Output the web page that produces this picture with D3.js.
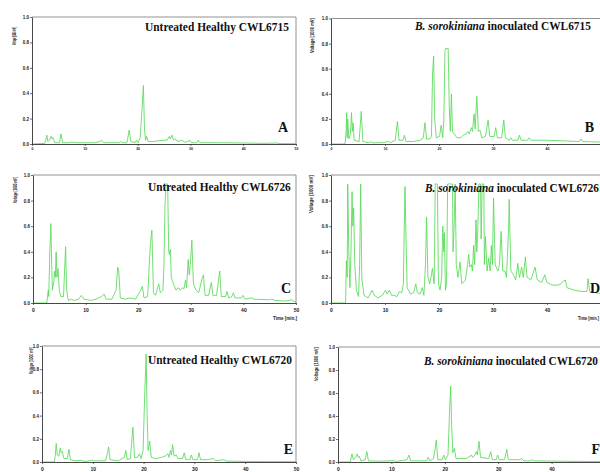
<!DOCTYPE html>
<html>
<head>
<meta charset="utf-8">
<script src="https://cdn.jsdelivr.net/npm/d3@7"></script>
<style>
  html, body { margin: 0; padding: 0; background: #fff; }
  svg { display: block; }
</style>
</head>
<body>
<svg id="chart" width="600" height="472"></svg>
<script>
// retention time [min] / detector signal [1000 mV]
const traceA = [[0,0],[2.4,0.005],[2.6,0.03],[2.8,0.07],[3.0,0.02],[3.3,0.03],[3.6,0.06],[3.8,0.04],[4.0,0.05],[4.3,0.01],[5.2,0.01],[5.5,0.08],[5.8,0.01],[7.0,0.01],[7.5,0.015],[8.5,0.01],[10,0.01],[12,0.01],[12.9,0.02],[13.2,0.03],[13.6,0.01],[16.5,0.01],[16.8,0.02],[17.1,0.01],[18.0,0.01],[18.4,0.11],[18.7,0.02],[19.5,0.01],[19.8,0.03],[20.1,0.01],[20.5,0.05],[20.8,0.25],[21.1,0.46],[21.3,0.12],[21.5,0.03],[21.7,0.06],[22.0,0.02],[23,0.02],[24,0.025],[25,0.03],[25.6,0.03],[26.0,0.06],[26.2,0.04],[26.5,0.07],[26.8,0.03],[27.2,0.04],[27.5,0.02],[28.5,0.03],[28.8,0.015],[29.5,0.02],[29.9,0.03],[30.2,0.01],[31.2,0.01],[31.5,0.03],[31.8,0.01],[35,0.01],[40,0.008],[44,0.005],[46.3,0.008],[47,0.003],[50,0.003]];

const traceB = [[0,0],[2.6,0],[2.8,0.1],[2.9,0.25],[3.0,0.05],[3.1,0.2],[3.3,0.04],[3.6,0.08],[3.8,0.25],[3.95,0.1],[4.1,0.17],[4.3,0.03],[5.2,0.02],[5.6,0.26],[5.9,0.02],[7.0,0.01],[7.3,0.02],[7.6,0.01],[9.5,0.01],[10.6,0.02],[11.0,0.01],[11.9,0.03],[12.3,0.18],[12.6,0.03],[13.3,0.03],[13.6,0.07],[13.9,0.02],[15.2,0.02],[16.5,0.03],[17.1,0.05],[17.4,0.17],[17.7,0.04],[18.3,0.04],[18.6,0.06],[18.8,0.55],[19.0,0.70],[19.2,0.2],[19.5,0.05],[20.1,0.06],[20.4,0.15],[20.7,0.05],[20.9,0.2],[21.1,0.74],[21.2,0.76],[21.7,0.76],[21.9,0.3],[22.1,0.1],[22.3,0.40],[22.5,0.1],[23.0,0.07],[23.3,0.05],[24.0,0.05],[24.5,0.07],[25.0,0.08],[25.3,0.1],[25.6,0.08],[26.0,0.13],[26.2,0.1],[26.5,0.24],[26.7,0.12],[27.0,0.38],[27.3,0.1],[27.6,0.11],[27.9,0.05],[28.6,0.06],[29.1,0.19],[29.4,0.06],[30.2,0.06],[30.5,0.13],[30.8,0.05],[31.6,0.05],[32.0,0.19],[32.3,0.05],[33.0,0.03],[33.3,0.05],[33.6,0.03],[34.6,0.03],[34.9,0.07],[35.2,0.03],[36.4,0.03],[36.7,0.05],[37.0,0.03],[40,0.03],[43,0.025],[46.0,0.02],[46.3,0.04],[46.6,0.02],[50,0.015]];

const traceC = [[0,0],[2.6,0],[2.9,0.1],[3.0,0.05],[3.2,0.4],[3.4,0.62],[3.55,0.3],[3.7,0.1],[4.0,0.18],[4.1,0.25],[4.25,0.2],[4.4,0.40],[4.55,0.2],[4.75,0.27],[5.0,0.1],[5.3,0.05],[5.8,0.05],[6.1,0.35],[6.2,0.44],[6.4,0.1],[6.7,0.02],[7.3,0.03],[7.8,0.02],[8.7,0.03],[9.2,0.06],[9.7,0.03],[11,0.02],[12,0.03],[13.0,0.05],[13.5,0.07],[13.9,0.03],[15,0.03],[15.8,0.1],[16.1,0.28],[16.3,0.25],[16.6,0.04],[17.5,0.03],[18.4,0.04],[19.5,0.03],[20.5,0.1],[20.8,0.13],[21.1,0.04],[21.8,0.05],[22.3,0.45],[22.6,0.57],[22.9,0.08],[23.3,0.06],[23.9,0.15],[24.2,0.08],[24.7,0.1],[24.9,0.3],[25.1,0.77],[25.3,0.93],[25.6,0.93],[25.8,0.4],[25.95,0.38],[26.1,0.42],[26.3,0.2],[26.7,0.15],[27.2,0.1],[27.6,0.12],[28.0,0.1],[28.4,0.12],[28.7,0.11],[29.0,0.18],[29.2,0.12],[29.5,0.34],[29.7,0.22],[29.9,0.3],[30.2,0.49],[30.5,0.15],[31.0,0.1],[31.5,0.08],[32.2,0.2],[32.4,0.22],[32.7,0.06],[33.4,0.06],[33.9,0.16],[34.2,0.06],[34.9,0.06],[35.5,0.25],[35.8,0.05],[36.6,0.05],[36.9,0.09],[37.2,0.04],[37.8,0.05],[38.1,0.08],[38.4,0.04],[39.6,0.04],[39.9,0.06],[40.3,0.03],[41.5,0.04],[42,0.03],[45.0,0.025],[45.4,0.03],[46,0.02],[48,0.015],[49.3,0.025],[49.6,0.01],[50,0.01]];

const traceD = [[0,0],[2.7,0],[2.85,0.33],[3.0,0.2],[3.1,0.93],[3.3,0.4],[3.5,0.12],[3.7,0.4],[3.9,0.87],[4.05,0.6],[4.2,0.74],[4.4,0.3],[4.7,0.1],[5.1,0.05],[5.3,0.3],[5.5,0.93],[5.7,0.2],[6.1,0.06],[6.9,0.04],[7.6,0.1],[8.0,0.06],[8.7,0.04],[9.5,0.06],[10.1,0.1],[10.4,0.07],[10.8,0.1],[11.2,0.06],[11.7,0.06],[12.2,0.05],[12.7,0.09],[13.1,0.08],[13.4,0.15],[13.7,0.91],[13.9,0.5],[14.1,0.12],[14.7,0.07],[15.3,0.08],[15.7,0.15],[16.0,0.08],[16.5,0.07],[16.9,0.12],[17.2,0.06],[17.5,0.3],[17.7,0.67],[17.95,0.2],[18.3,0.15],[18.8,0.27],[19.1,0.15],[19.2,0.5],[19.3,0.93],[19.7,0.93],[19.9,0.15],[20.2,0.1],[20.5,0.2],[20.7,0.6],[20.9,0.4],[21.0,0.55],[21.2,0.1],[21.4,0.15],[21.6,0.93],[22.5,0.93],[22.6,0.4],[22.8,0.6],[23.0,0.93],[23.2,0.3],[23.5,0.2],[23.9,0.32],[24.2,0.15],[24.9,0.18],[25.3,0.3],[25.5,0.38],[25.7,0.28],[26.0,0.3],[26.2,0.25],[26.4,0.45],[26.6,0.3],[26.85,0.65],[27.0,0.4],[27.2,0.6],[27.4,0.93],[27.7,0.93],[27.8,0.5],[28.0,0.93],[28.3,0.93],[28.4,0.3],[28.6,0.52],[28.9,0.25],[29.2,0.35],[29.45,0.25],[29.7,0.45],[29.9,0.3],[30.1,0.82],[30.4,0.3],[30.9,0.25],[31.2,0.3],[31.5,0.56],[31.8,0.25],[32.2,0.25],[32.5,0.2],[32.9,0.6],[33.0,0.81],[33.3,0.25],[33.8,0.22],[34.2,0.18],[34.6,0.31],[34.9,0.2],[35.3,0.28],[35.6,0.2],[36.0,0.36],[36.3,0.2],[37.0,0.18],[37.8,0.28],[38.2,0.18],[39.0,0.16],[39.6,0.22],[40.0,0.16],[41.0,0.14],[42.0,0.14],[42.6,0.15],[43.0,0.17],[43.4,0.18],[43.7,0.12],[45.0,0.1],[46.5,0.09],[47.4,0.09],[47.6,0.19],[47.9,0.09],[49,0.08],[50,0.075]];

const traceE = [[0,0],[2.4,0],[2.6,0.05],[2.8,0.16],[3.0,0.06],[3.3,0.05],[3.6,0.12],[3.8,0.08],[4.0,0.09],[4.3,0.03],[5.0,0.03],[5.3,0.11],[5.6,0.02],[6.5,0.01],[7.5,0.015],[8.5,0.005],[9.8,0.015],[10.2,0.01],[12.5,0.01],[12.9,0.08],[13.1,0.13],[13.4,0.02],[15,0.01],[16.2,0.04],[16.5,0.1],[16.8,0.02],[17.4,0.03],[17.7,0.2],[17.9,0.30],[18.2,0.04],[18.8,0.04],[19.2,0.07],[19.5,0.03],[19.9,0.1],[20.2,0.55],[20.5,0.93],[20.7,0.4],[20.9,0.1],[21.2,0.18],[21.5,0.04],[22.5,0.03],[23.5,0.04],[24.2,0.05],[24.8,0.07],[25.0,0.04],[25.3,0.1],[25.5,0.06],[25.7,0.15],[26.0,0.05],[26.4,0.06],[26.8,0.03],[27.7,0.03],[28.0,0.08],[28.3,0.02],[29.1,0.02],[29.4,0.06],[29.7,0.02],[30.6,0.02],[30.9,0.08],[31.2,0.02],[32.5,0.02],[33.7,0.03],[34.2,0.01],[35.7,0.02],[36.2,0.008],[40,0.005],[45,0.003],[50,0.003]];

const traceF = [[0,0],[2.3,0],[2.6,0.07],[2.9,0.02],[3.3,0.04],[3.6,0.07],[3.8,0.04],[4.0,0.05],[4.3,0.01],[5.1,0.02],[5.4,0.09],[5.7,0.01],[7,0.008],[9,0.008],[10.3,0.012],[11,0.005],[12.9,0.02],[13.3,0.06],[13.6,0.01],[16.6,0.01],[16.9,0.04],[17.2,0.01],[17.9,0.03],[18.2,0.12],[18.4,0.19],[18.7,0.02],[19.5,0.02],[19.8,0.06],[20.1,0.02],[20.6,0.06],[20.9,0.45],[21.1,0.66],[21.3,0.3],[21.5,0.08],[21.8,0.12],[22.1,0.03],[23,0.03],[24,0.03],[25.0,0.06],[25.2,0.04],[25.6,0.06],[25.9,0.09],[26.1,0.06],[26.4,0.18],[26.7,0.04],[28.2,0.03],[28.6,0.09],[28.9,0.02],[29.6,0.02],[29.9,0.06],[30.2,0.02],[31.2,0.02],[31.6,0.11],[31.9,0.02],[34.0,0.02],[34.4,0.03],[34.8,0.01],[36.0,0.01],[36.3,0.02],[36.6,0.01],[40,0.008],[45,0.005],[50,0.005]];

const timeTicks = [0, 10, 20, 30, 40, 50];
const voltTicks = [0, 0.2, 0.4, 0.6, 0.8, 1.0];
const panelLetters = ['A', 'B', 'C', 'D', 'E', 'F'];
const cultivars = ['CWL6715', 'CWL6715', 'CWL6726', 'CWL6726', 'CWL6720', 'CWL6720'];
const inoculated = [false, true, false, true, false, true];

const traces = [traceA, traceB, traceC, traceD, traceE, traceF];

// layout of each panel (pixels); right column runs off the page edge
const panels = [
  { x0: 32, x1: 296, y0: 17, y1: 144, tickFs: 3.5, title: [145, 31, 144], letter: [288, 132], yTitle: [16, 27, 18], time: null },
  { x0: 331, x1: 601, y0: 18.5, y1: 144, tickFs: 3.5, title: [415, 29.5, 176], letter: [594, 132], yTitle: [314, 18, 35], time: null },
  { x0: 33, x1: 296, y0: 175, y1: 303, tickFs: 5, title: [148, 191, 143], letter: [291, 293], yTitle: [17, 177, 26], time: [273, 320, 24] },
  { x0: 331, x1: 601, y0: 175, y1: 303, tickFs: 5, title: [425, 192, 174], letter: [600, 293], yTitle: [313, 175, 38], time: [578, 320, 21] },
  { x0: 42, x1: 296, y0: 346, y1: 462, tickFs: 5, title: [148, 363.5, 144], letter: [293, 454], yTitle: [33, 347, 27], time: null },
  { x0: 338, x1: 605, y0: 347, y1: 462, tickFs: 5, title: [424, 365, 174], letter: [600, 454], yTitle: [318, 347, 34], time: null }
];

const lineColor = '#58d958';
const serif = '"Liberation Serif", "Times New Roman", serif';
const sans = '"Liberation Sans", Arial, sans-serif';

const svg = d3.select('#chart');

// squeeze a text element horizontally to a given width
function fitText (sel, x, y, w, rot) {
  const len = sel.node().getComputedTextLength();
  sel.attr('transform', `translate(${x},${y})${rot ? ' rotate(-90)' : ''} scale(${w / len},1)`);
}

panels.forEach((p, i) => {
  const g = svg.append('g');

  const x = d3.scaleLinear().domain([0, 50]).range([p.x0, p.x1]);
  const y = d3.scaleLinear().domain([0, 1]).range([p.y1, p.y0]);

  // frame
  g.append('path')
    .attr('d', `M${p.x0},${p.y0}H${p.x1}V${p.y1}`)
    .attr('fill', 'none')
    .attr('stroke', '#777')
    .attr('stroke-width', 0.8);

  const line = d3.line()
    .x(d => x(d[0]))
    .y(d => y(d[1]));

  g.append('path')
    .datum(traces[i])
    .attr('d', line)
    .attr('fill', 'none')
    .attr('stroke', lineColor)
    .attr('stroke-width', 0.85)
    .attr('stroke-linejoin', 'round');

  // only the ticks that fall inside the page get labels
  const shownTicks = timeTicks.filter(t => x(t) <= 598);

  const yAxis = g.append('g')
    .attr('transform', `translate(${p.x0},0)`)
    .call(d3.axisLeft(y).tickValues(voltTicks).tickSize(2).tickSizeOuter(0).tickPadding(1).tickFormat(d3.format('.1f')));

  const xAxis = g.append('g')
    .attr('transform', `translate(0,${p.y1})`)
    .call(d3.axisBottom(x).tickValues(shownTicks).tickSize(2).tickSizeOuter(0).tickPadding(p.tickFs < 4 ? 2 : 3).tickFormat(d3.format('d')));

  [yAxis, xAxis].forEach(ax => {
    ax.select('.domain').attr('stroke', '#333').attr('stroke-width', 0.9);
    ax.selectAll('.tick line').attr('stroke', '#333').attr('stroke-width', 0.7);
    ax.selectAll('.tick text')
      .style('font-family', sans)
      .style('font-weight', 'bold')
      .attr('fill', '#222');
  });
  yAxis.selectAll('.tick text').style('font-size', '4.5px');
  xAxis.selectAll('.tick text').style('font-size', p.tickFs + 'px');

  // y axis title
  const yt = g.append('text')
    .text('Voltage [1000 mV]')
    .style('font-family', sans)
    .style('font-weight', 'bold')
    .style('font-size', '4.5px')
    .attr('fill', '#222');
  fitText(yt, p.yTitle[0], p.yTitle[1] + p.yTitle[2], p.yTitle[2], true);

  if (p.time) {
    const tt = g.append('text')
      .text('Time [min.]')
      .style('font-family', sans)
      .style('font-weight', 'bold')
      .style('font-size', '5px')
      .attr('fill', '#222');
    fitText(tt, p.time[0], p.time[1], p.time[2], false);
  }

  // panel title
  const title = g.append('text')
    .style('font-family', serif)
    .style('font-weight', 'bold')
    .style('font-size', '13px')
    .attr('fill', '#111');
  if (inoculated[i]) {
    title.append('tspan').style('font-style', 'italic').text('B. sorokiniana');
    title.append('tspan').text(' inoculated ' + cultivars[i]);
  } else {
    title.append('tspan').text('Untreated Healthy ' + cultivars[i]);
  }
  fitText(title, p.title[0], p.title[1], p.title[2], false);

  g.append('text')
    .attr('x', p.letter[0])
    .attr('y', p.letter[1])
    .attr('text-anchor', 'end')
    .style('font-family', serif)
    .style('font-weight', 'bold')
    .style('font-size', '14px')
    .attr('fill', '#111')
    .text(panelLetters[i]);
});
</script>
</body>
</html>
